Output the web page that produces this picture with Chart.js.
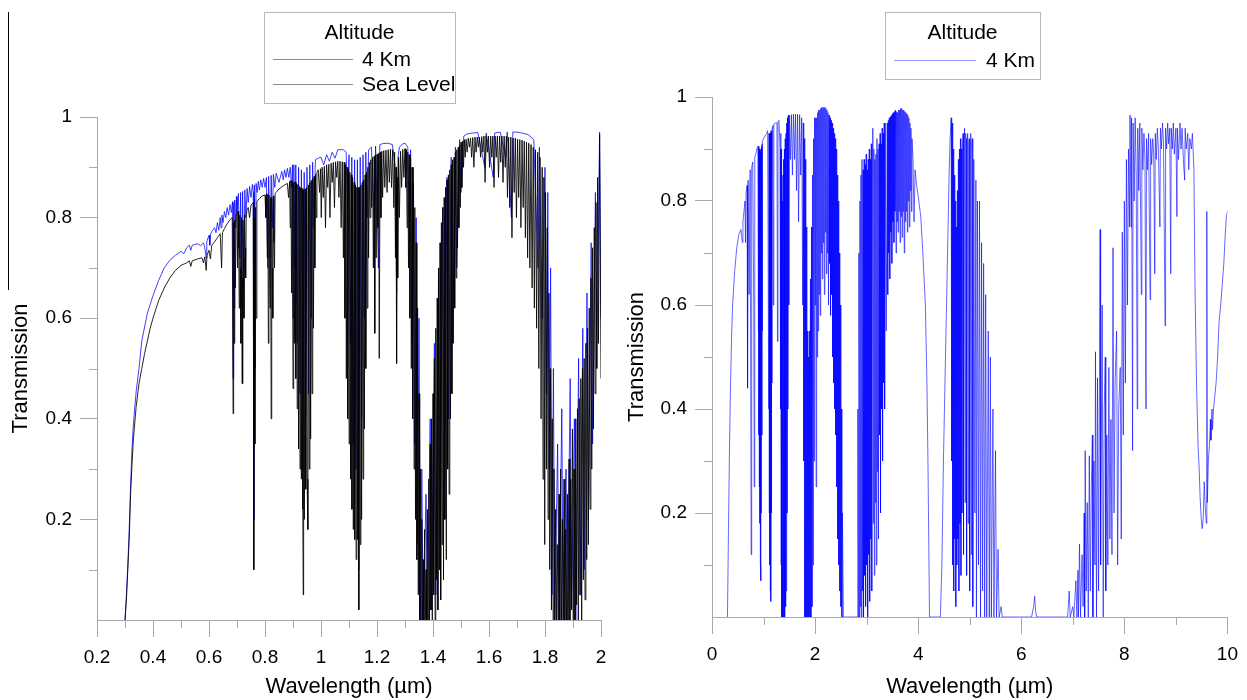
<!DOCTYPE html>
<html>
<head>
<meta charset="utf-8">
<title>Transmission vs wavelength</title>
<script src="https://cdn.jsdelivr.net/npm/chart.js@4.4.1/dist/chart.umd.min.js"></script>
<style>
  html, body { margin: 0; padding: 0; background: #fff; }
  #page { position: relative; width: 1247px; height: 700px; overflow: hidden; }
  .panel { position: absolute; top: 0; height: 700px; }
  #leftPanel { left: 0; width: 620px; }
  #rightPanel { left: 620px; width: 627px; }
  #strayLine { position: absolute; left: 8px; top: 12px; width: 0; height: 278px; border-left: 1px solid #000; }
</style>
</head>
<body>
<div id="page">
  <div class="panel" id="leftPanel"><canvas id="nearChart"></canvas></div>
  <div class="panel" id="rightPanel"><canvas id="wideChart"></canvas></div>
  <div id="strayLine"></div>
</div>
<script>
// Minor tick positions (major ticks come from the scales)
const nearMinorX = [0.3, 0.5, 0.7, 0.9, 1.1, 1.3, 1.5, 1.7, 1.9];
const wideMinorX = [1, 3, 5, 7, 9];
const minorY = [0.1, 0.3, 0.5, 0.7, 0.9];

// Sea level transmission, 0.3 - 2 µm  [wavelength, transmission]
const seaLevelNear = [
  [0.300,0.00],[0.305,0.04],[0.310,0.10],[0.315,0.16],[0.320,0.25],[0.325,0.31],[0.330,0.36],[0.340,0.425],[0.350,0.47],[0.360,0.50],
  [0.370,0.53],[0.380,0.555],[0.390,0.58],[0.400,0.60],[0.420,0.635],[0.440,0.66],[0.460,0.68],[0.480,0.695],[0.500,0.705],[0.520,0.71],
  [0.530,0.714],[0.535,0.703],[0.540,0.714],[0.560,0.718],[0.575,0.72],[0.580,0.71],[0.585,0.722],[0.590,0.695],[0.593,0.725],[0.600,0.735],
  [0.605,0.718],[0.610,0.745],[0.620,0.752],[0.630,0.760],[0.640,0.768],[0.645,0.70],[0.648,0.77],[0.655,0.778],[0.665,0.788],[0.675,0.796],
  [0.683,0.80],[0.686,0.41],[0.688,0.79],[0.690,0.55],[0.692,0.795],[0.694,0.66],[0.697,0.805],[0.700,0.81],[0.702,0.70],[0.704,0.812],
  [0.706,0.74],[0.708,0.62],[0.710,0.805],[0.712,0.70],[0.714,0.55],[0.716,0.80],[0.718,0.68],[0.719,0.47],[0.721,0.795],[0.723,0.72],
  [0.725,0.60],[0.727,0.805],[0.729,0.74],[0.731,0.68],[0.733,0.81],[0.735,0.815],[0.740,0.82],[0.745,0.80],[0.750,0.825],[0.756,0.828],
  [0.758,0.83],[0.760,0.10],[0.762,0.80],[0.764,0.35],[0.766,0.82],[0.768,0.60],[0.771,0.832],[0.780,0.838],[0.790,0.843],[0.800,0.845],
  [0.803,0.80],[0.806,0.848],[0.808,0.72],[0.810,0.846],[0.812,0.55],[0.814,0.845],[0.816,0.70],[0.818,0.62],[0.820,0.84],[0.822,0.40],
  [0.824,0.84],[0.826,0.70],[0.828,0.60],[0.830,0.843],[0.832,0.75],[0.834,0.70],[0.836,0.848],[0.840,0.85],[0.850,0.857],[0.870,0.865],
  [0.880,0.868],[0.884,0.84],[0.888,0.872],[0.890,0.78],[0.8925,0.874],[0.895,0.65],[0.8975,0.873],[0.900,0.46],[0.9025,0.87],[0.905,0.55],
  [0.9075,0.871],[0.910,0.48],[0.9125,0.868],[0.915,0.42],[0.9175,0.866],[0.920,0.34],[0.9225,0.862],[0.925,0.30],[0.9275,0.86],[0.930,0.28],
  [0.9325,0.858],[0.935,0.22],[0.9365,0.05],[0.938,0.855],[0.9405,0.20],[0.943,0.857],[0.9455,0.26],[0.948,0.86],[0.9505,0.28],[0.953,0.18],
  [0.9555,0.865],[0.958,0.30],[0.9605,0.87],[0.963,0.36],[0.9655,0.874],[0.968,0.45],[0.9705,0.878],[0.973,0.58],[0.9755,0.882],[0.978,0.70],
  [0.9805,0.886],[0.983,0.80],[0.9855,0.89],[0.990,0.895],[0.995,0.85],[0.998,0.897],[1.001,0.80],[1.004,0.90],[1.008,0.84],[1.012,0.902],
  [1.016,0.78],[1.020,0.905],[1.024,0.86],[1.028,0.906],[1.032,0.80],[1.036,0.908],[1.040,0.87],[1.044,0.91],[1.048,0.82],[1.052,0.911],
  [1.056,0.88],[1.060,0.912],[1.064,0.84],[1.068,0.912],[1.072,0.78],[1.076,0.911],[1.080,0.72],[1.083,0.91],[1.0855,0.60],[1.088,0.905],
  [1.0905,0.48],[1.093,0.90],[1.0955,0.40],[1.098,0.895],[1.1005,0.35],[1.103,0.89],[1.1055,0.28],[1.108,0.885],[1.1105,0.22],[1.113,0.88],
  [1.1155,0.18],[1.118,0.87],[1.1205,0.16],[1.123,0.865],[1.1255,0.12],[1.128,0.86],[1.1305,0.16],[1.133,0.86],[1.135,0.02],[1.1375,0.86],
  [1.140,0.15],[1.1425,0.865],[1.145,0.20],[1.1475,0.87],[1.150,0.28],[1.1525,0.875],[1.155,0.38],[1.1575,0.885],[1.160,0.50],[1.1625,0.89],
  [1.165,0.62],[1.1675,0.90],[1.170,0.72],[1.1725,0.91],[1.175,0.80],[1.178,0.915],[1.181,0.82],[1.184,0.92],[1.187,0.70],[1.190,0.922],
  [1.192,0.57],[1.194,0.924],[1.197,0.72],[1.200,0.926],[1.203,0.78],[1.206,0.928],[1.208,0.52],[1.211,0.93],[1.214,0.80],[1.217,0.932],
  [1.220,0.84],[1.224,0.933],[1.228,0.86],[1.232,0.934],[1.236,0.85],[1.240,0.935],[1.244,0.87],[1.248,0.936],[1.252,0.86],[1.256,0.935],
  [1.260,0.82],[1.263,0.93],[1.266,0.72],[1.268,0.90],[1.270,0.51],[1.272,0.88],[1.274,0.68],[1.277,0.92],[1.280,0.80],[1.284,0.932],
  [1.288,0.86],[1.292,0.936],[1.296,0.88],[1.300,0.937],[1.3025,0.86],[1.305,0.935],[1.3075,0.78],[1.310,0.93],[1.3125,0.70],[1.315,0.925],
  [1.3175,0.60],[1.320,0.92],[1.3225,0.50],[1.325,0.90],[1.3275,0.40],[1.330,0.87],[1.3325,0.30],[1.335,0.82],[1.3375,0.20],[1.340,0.75],
  [1.3425,0.12],[1.345,0.62],[1.3475,0.05],[1.350,0.45],[1.3525,0.00],[1.355,0.30],[1.3575,0.00],[1.360,0.20],[1.3625,0.00],[1.365,0.12],
  [1.3675,0.00],[1.370,0.18],[1.3725,0.00],[1.375,0.10],[1.3775,0.00],[1.380,0.22],[1.3825,0.00],[1.385,0.28],[1.3875,0.00],[1.390,0.35],
  [1.3925,0.02],[1.395,0.40],[1.3975,0.00],[1.400,0.45],[1.4025,0.05],[1.405,0.52],[1.4075,0.00],[1.410,0.58],[1.4125,0.08],[1.415,0.64],
  [1.4175,0.02],[1.420,0.70],[1.4225,0.10],[1.425,0.75],[1.4275,0.04],[1.430,0.79],[1.4325,0.15],[1.435,0.82],[1.4375,0.08],[1.440,0.84],
  [1.4425,0.20],[1.445,0.86],[1.4475,0.12],[1.450,0.875],[1.4525,0.30],[1.455,0.885],[1.4575,0.25],[1.460,0.895],[1.4625,0.40],[1.465,0.905],
  [1.4675,0.45],[1.470,0.915],[1.4725,0.55],[1.475,0.92],[1.4775,0.62],[1.480,0.93],[1.4825,0.68],[1.485,0.935],[1.4875,0.74],[1.490,0.94],
  [1.4925,0.78],[1.495,0.945],[1.4975,0.82],[1.500,0.95],[1.503,0.86],[1.506,0.952],[1.509,0.90],[1.512,0.955],[1.515,0.92],[1.518,0.956],
  [1.522,0.93],[1.526,0.958],[1.530,0.94],[1.534,0.958],[1.538,0.92],[1.542,0.959],[1.546,0.90],[1.550,0.96],[1.554,0.93],[1.558,0.96],
  [1.562,0.94],[1.566,0.96],[1.570,0.92],[1.574,0.961],[1.578,0.93],[1.582,0.962],[1.586,0.87],[1.590,0.962],[1.594,0.93],[1.598,0.962],
  [1.602,0.90],[1.606,0.962],[1.610,0.92],[1.614,0.962],[1.618,0.86],[1.622,0.962],[1.626,0.92],[1.630,0.962],[1.634,0.88],[1.638,0.962],
  [1.642,0.91],[1.646,0.962],[1.650,0.87],[1.654,0.962],[1.658,0.90],[1.662,0.962],[1.666,0.84],[1.670,0.96],[1.674,0.82],[1.678,0.96],
  [1.682,0.76],[1.686,0.958],[1.690,0.85],[1.694,0.958],[1.698,0.80],[1.702,0.956],[1.706,0.84],[1.710,0.955],[1.714,0.78],[1.718,0.954],
  [1.722,0.82],[1.726,0.952],[1.730,0.76],[1.734,0.95],[1.738,0.72],[1.742,0.948],[1.746,0.70],[1.750,0.945],[1.754,0.66],[1.758,0.94],
  [1.762,0.62],[1.766,0.935],[1.770,0.58],[1.774,0.93],[1.778,0.50],[1.782,0.92],[1.786,0.40],[1.790,0.90],[1.793,0.28],[1.796,0.88],
  [1.799,0.15],[1.802,0.85],[1.805,0.30],[1.808,0.78],[1.811,0.20],[1.814,0.65],[1.817,0.10],[1.820,0.50],[1.823,0.02],[1.826,0.40],
  [1.829,0.00],[1.832,0.30],[1.835,0.00],[1.838,0.22],[1.841,0.00],[1.844,0.15],[1.847,0.00],[1.850,0.25],[1.853,0.00],[1.856,0.30],
  [1.859,0.00],[1.862,0.20],[1.865,0.00],[1.868,0.28],[1.871,0.00],[1.874,0.18],[1.877,0.00],[1.880,0.25],[1.883,0.00],[1.886,0.32],
  [1.889,0.00],[1.892,0.28],[1.895,0.02],[1.898,0.38],[1.901,0.00],[1.904,0.30],[1.907,0.00],[1.910,0.40],[1.913,0.03],[1.916,0.42],
  [1.919,0.00],[1.922,0.44],[1.925,0.05],[1.928,0.48],[1.931,0.00],[1.934,0.50],[1.937,0.08],[1.940,0.52],[1.943,0.04],[1.946,0.55],
  [1.949,0.12],[1.952,0.58],[1.955,0.15],[1.958,0.62],[1.961,0.22],[1.964,0.68],[1.967,0.30],[1.970,0.74],[1.973,0.38],[1.976,0.78],
  [1.979,0.45],[1.982,0.83],[1.985,0.50],[1.988,0.88],[1.991,0.55],[1.995,0.965],[2.000,0.48]
];

// 4 km altitude transmission, 0.3 - 2 µm
const km4Near = [
  [0.300,0.00],[0.305,0.05],[0.310,0.11],[0.315,0.18],[0.320,0.27],[0.325,0.34],[0.330,0.39],[0.340,0.455],[0.350,0.50],[0.360,0.555],
  [0.380,0.61],[0.400,0.645],[0.420,0.675],[0.440,0.70],[0.460,0.715],[0.480,0.725],[0.500,0.733],[0.510,0.728],[0.520,0.74],[0.530,0.745],
  [0.535,0.735],[0.540,0.745],[0.560,0.748],[0.570,0.744],[0.580,0.75],[0.585,0.74],[0.590,0.72],[0.592,0.752],[0.600,0.765],[0.603,0.745],
  [0.606,0.768],[0.610,0.772],[0.620,0.78],[0.625,0.77],[0.630,0.79],[0.635,0.775],[0.640,0.80],[0.643,0.78],[0.646,0.805],[0.650,0.79],
  [0.655,0.812],[0.660,0.80],[0.665,0.82],[0.670,0.805],[0.675,0.826],[0.680,0.81],[0.684,0.832],[0.686,0.48],[0.688,0.83],[0.690,0.62],
  [0.692,0.835],[0.695,0.78],[0.698,0.842],[0.700,0.81],[0.705,0.848],[0.710,0.72],[0.713,0.85],[0.717,0.62],[0.720,0.852],[0.724,0.70],
  [0.728,0.855],[0.732,0.80],[0.736,0.858],[0.740,0.83],[0.745,0.862],[0.750,0.84],[0.755,0.866],[0.758,0.85],[0.760,0.20],[0.762,0.865],
  [0.765,0.50],[0.768,0.868],[0.772,0.85],[0.776,0.872],[0.780,0.855],[0.785,0.875],[0.790,0.86],[0.795,0.878],[0.800,0.86],[0.805,0.88],
  [0.810,0.70],[0.813,0.882],[0.818,0.72],[0.822,0.884],[0.826,0.78],[0.830,0.886],[0.835,0.86],[0.840,0.888],[0.850,0.87],[0.860,0.892],
  [0.865,0.875],[0.870,0.895],[0.875,0.88],[0.880,0.898],[0.885,0.88],[0.890,0.90],[0.895,0.86],[0.898,0.905],[0.900,0.60],[0.903,0.905],
  [0.907,0.70],[0.910,0.905],[0.915,0.55],[0.920,0.90],[0.925,0.45],[0.930,0.895],[0.935,0.30],[0.940,0.89],[0.945,0.40],[0.950,0.90],
  [0.955,0.45],[0.960,0.905],[0.965,0.60],[0.970,0.91],[0.975,0.78],[0.980,0.915],[0.990,0.918],[1.000,0.92],[1.010,0.905],[1.020,0.925],
  [1.030,0.912],[1.040,0.93],[1.050,0.918],[1.060,0.935],[1.080,0.935],[1.090,0.93],[1.095,0.82],[1.100,0.925],[1.105,0.55],[1.110,0.92],
  [1.115,0.35],[1.120,0.915],[1.125,0.30],[1.130,0.915],[1.135,0.10],[1.140,0.92],[1.145,0.40],[1.150,0.925],[1.155,0.60],[1.160,0.93],
  [1.165,0.80],[1.170,0.935],[1.180,0.94],[1.190,0.80],[1.195,0.942],[1.205,0.70],[1.210,0.945],[1.220,0.947],[1.240,0.948],[1.255,0.945],
  [1.265,0.90],[1.270,0.65],[1.275,0.92],[1.280,0.94],[1.290,0.946],[1.300,0.948],[1.310,0.94],[1.315,0.80],[1.320,0.935],[1.325,0.55],
  [1.330,0.90],[1.335,0.35],[1.340,0.80],[1.345,0.15],[1.350,0.60],[1.355,0.00],[1.360,0.30],[1.365,0.00],[1.375,0.25],[1.380,0.00],
  [1.390,0.40],[1.395,0.02],[1.405,0.55],[1.410,0.05],[1.420,0.70],[1.425,0.10],[1.435,0.82],[1.440,0.20],[1.450,0.88],[1.455,0.40],
  [1.465,0.92],[1.470,0.55],[1.480,0.94],[1.485,0.70],[1.495,0.955],[1.500,0.85],[1.510,0.962],[1.520,0.966],[1.540,0.968],[1.560,0.969],
  [1.585,0.90],[1.590,0.968],[1.615,0.88],[1.620,0.968],[1.640,0.97],[1.660,0.92],[1.665,0.97],[1.680,0.80],[1.685,0.97],[1.700,0.97],
  [1.720,0.968],[1.740,0.965],[1.750,0.96],[1.760,0.955],[1.775,0.70],[1.780,0.94],[1.790,0.60],[1.800,0.90],[1.805,0.45],[1.810,0.85],
  [1.815,0.30],[1.820,0.70],[1.825,0.05],[1.830,0.50],[1.835,0.00],[1.845,0.35],[1.850,0.00],[1.860,0.42],[1.865,0.00],[1.875,0.30],
  [1.880,0.00],[1.890,0.48],[1.895,0.02],[1.905,0.40],[1.910,0.00],[1.920,0.52],[1.925,0.05],[1.935,0.58],[1.940,0.10],[1.950,0.65],
  [1.955,0.20],[1.965,0.75],[1.970,0.35],[1.980,0.85],[1.985,0.50],[1.995,0.97],[2.000,0.60]
];

// 4 km altitude transmission, 0.3 - 10 µm
const km4Wide = [
  [0.30,0.00],[0.32,0.17],[0.34,0.33],[0.36,0.45],[0.38,0.54],[0.40,0.60],[0.44,0.665],[0.48,0.71],[0.52,0.735],[0.56,0.745],
  [0.59,0.72],[0.60,0.76],[0.62,0.78],[0.64,0.80],[0.65,0.72],[0.66,0.815],[0.68,0.83],[0.69,0.44],[0.70,0.84],[0.72,0.62],
  [0.74,0.86],[0.76,0.12],[0.77,0.865],[0.79,0.875],[0.81,0.60],[0.82,0.25],[0.83,0.885],[0.85,0.89],[0.87,0.90],[0.89,0.905],
  [0.90,0.55],[0.905,0.905],[0.91,0.35],[0.915,0.90],[0.92,0.25],[0.925,0.90],[0.93,0.18],[0.935,0.895],[0.94,0.10],[0.945,0.07],
  [0.95,0.90],[0.955,0.20],[0.96,0.905],[0.965,0.35],[0.97,0.91],[0.975,0.55],[0.98,0.915],[1.00,0.92],[1.03,0.925],[1.06,0.93],
  [1.08,0.935],[1.10,0.40],[1.105,0.93],[1.11,0.20],[1.115,0.93],[1.12,0.10],[1.125,0.93],[1.13,0.05],[1.135,0.93],[1.14,0.03],
  [1.145,0.935],[1.15,0.20],[1.155,0.935],[1.16,0.45],[1.165,0.94],[1.18,0.945],[1.19,0.60],[1.20,0.948],[1.23,0.95],[1.26,0.95],
  [1.27,0.53],[1.28,0.952],[1.30,0.955],[1.32,0.90],[1.33,0.40],[1.335,0.93],[1.34,0.10],[1.345,0.90],[1.35,0.00],[1.36,0.80],
  [1.365,0.00],[1.375,0.85],[1.38,0.00],[1.39,0.88],[1.395,0.00],[1.405,0.90],[1.41,0.00],[1.42,0.92],[1.425,0.02],[1.435,0.93],
  [1.44,0.05],[1.45,0.95],[1.455,0.20],[1.465,0.96],[1.47,0.40],[1.48,0.965],[1.49,0.60],[1.50,0.965],[1.52,0.88],[1.54,0.966],
  [1.56,0.85],[1.58,0.967],[1.60,0.88],[1.62,0.967],[1.64,0.82],[1.66,0.967],[1.68,0.76],[1.70,0.966],[1.72,0.85],[1.74,0.96],
  [1.76,0.60],[1.77,0.95],[1.78,0.30],[1.79,0.92],[1.80,0.00],[1.81,0.88],[1.82,0.00],[1.83,0.75],[1.84,0.00],[1.85,0.55],
  [1.86,0.00],[1.87,0.50],[1.88,0.00],[1.89,0.55],[1.90,0.00],[1.91,0.65],[1.92,0.00],[1.93,0.75],[1.94,0.02],[1.95,0.85],
  [1.96,0.10],[1.97,0.92],[1.98,0.30],[1.99,0.96],[2.00,0.60],[2.01,0.96],[2.02,0.25],[2.03,0.96],[2.04,0.50],[2.05,0.97],
  [2.06,0.55],[2.07,0.975],[2.08,0.62],[2.09,0.975],[2.10,0.58],[2.11,0.978],[2.12,0.70],[2.13,0.98],[2.14,0.65],[2.15,0.98],
  [2.16,0.72],[2.17,0.98],[2.18,0.62],[2.19,0.98],[2.20,0.74],[2.21,0.978],[2.22,0.66],[2.23,0.975],[2.24,0.70],[2.25,0.97],
  [2.26,0.60],[2.27,0.965],[2.28,0.68],[2.29,0.96],[2.30,0.58],[2.31,0.955],[2.32,0.62],[2.33,0.95],[2.34,0.50],[2.35,0.94],
  [2.36,0.45],[2.37,0.93],[2.38,0.40],[2.39,0.92],[2.40,0.35],[2.41,0.90],[2.42,0.25],[2.43,0.85],[2.44,0.15],[2.45,0.80],
  [2.46,0.10],[2.47,0.70],[2.48,0.05],[2.49,0.60],[2.50,0.02],[2.51,0.40],[2.52,0.00],[2.53,0.20],[2.55,0.00],[2.80,0.00],
  [2.82,0.00],[2.83,0.40],[2.84,0.00],[2.85,0.70],[2.86,0.00],[2.87,0.80],[2.88,0.02],[2.89,0.85],[2.90,0.00],[2.91,0.88],
  [2.92,0.05],[2.93,0.86],[2.94,0.00],[2.95,0.88],[2.96,0.08],[2.97,0.87],[2.98,0.02],[2.99,0.89],[3.00,0.10],[3.01,0.86],
  [3.02,0.00],[3.03,0.88],[3.04,0.12],[3.05,0.90],[3.06,0.03],[3.07,0.88],[3.08,0.15],[3.09,0.91],[3.10,0.05],[3.11,0.90],
  [3.12,0.94],[3.13,0.18],[3.14,0.90],[3.15,0.08],[3.16,0.88],[3.17,0.22],[3.18,0.89],[3.19,0.10],[3.20,0.92],[3.21,0.28],
  [3.22,0.90],[3.23,0.15],[3.24,0.91],[3.25,0.35],[3.26,0.93],[3.27,0.20],[3.28,0.91],[3.29,0.40],[3.30,0.94],[3.31,0.30],
  [3.32,0.93],[3.33,0.45],[3.34,0.95],[3.35,0.40],[3.36,0.95],[3.38,0.55],[3.40,0.95],[3.41,0.62],[3.42,0.955],[3.43,0.70],
  [3.44,0.96],[3.45,0.65],[3.46,0.962],[3.47,0.74],[3.48,0.965],[3.49,0.68],[3.50,0.968],[3.51,0.76],[3.52,0.97],[3.53,0.72],
  [3.54,0.972],[3.55,0.78],[3.56,0.975],[3.57,0.70],[3.58,0.972],[3.59,0.76],[3.60,0.97],[3.61,0.74],[3.62,0.975],[3.63,0.78],
  [3.64,0.975],[3.65,0.72],[3.66,0.978],[3.67,0.77],[3.68,0.978],[3.69,0.73],[3.70,0.975],[3.71,0.78],[3.72,0.975],[3.73,0.70],
  [3.74,0.972],[3.75,0.76],[3.76,0.97],[3.77,0.78],[3.78,0.968],[3.79,0.74],[3.80,0.965],[3.81,0.80],[3.82,0.96],[3.83,0.75],
  [3.84,0.95],[3.85,0.82],[3.86,0.94],[3.87,0.78],[3.88,0.92],[3.90,0.88],[3.92,0.76],[3.94,0.86],[3.97,0.83],[4.00,0.81],
  [4.05,0.77],[4.08,0.72],[4.11,0.66],[4.14,0.60],[4.17,0.45],[4.19,0.30],[4.21,0.10],[4.22,0.00],[4.43,0.00],[4.46,0.10],
  [4.49,0.30],[4.52,0.45],[4.55,0.60],[4.58,0.75],[4.60,0.85],[4.62,0.92],[4.64,0.96],[4.65,0.30],[4.66,0.95],[4.67,0.10],
  [4.68,0.90],[4.69,0.05],[4.70,0.85],[4.71,0.15],[4.72,0.80],[4.73,0.02],[4.74,0.75],[4.75,0.10],[4.76,0.82],[4.77,0.15],
  [4.78,0.88],[4.79,0.05],[4.80,0.90],[4.81,0.18],[4.82,0.92],[4.83,0.08],[4.84,0.90],[4.85,0.20],[4.86,0.91],[4.87,0.93],
  [4.88,0.12],[4.89,0.92],[4.90,0.94],[4.91,0.22],[4.92,0.93],[4.93,0.92],[4.94,0.08],[4.95,0.92],[4.96,0.93],[4.97,0.18],
  [4.98,0.91],[4.99,0.92],[5.00,0.05],[5.01,0.90],[5.02,0.93],[5.03,0.12],[5.04,0.91],[5.05,0.92],[5.06,0.02],[5.08,0.88],
  [5.10,0.20],[5.12,0.84],[5.13,0.00],[5.15,0.80],[5.17,0.10],[5.19,0.80],[5.21,0.00],[5.23,0.72],[5.25,0.05],[5.27,0.68],
  [5.29,0.00],[5.31,0.62],[5.33,0.00],[5.36,0.55],[5.38,0.00],[5.40,0.50],[5.42,0.00],[5.45,0.40],[5.47,0.00],[5.50,0.32],
  [5.52,0.00],[5.55,0.13],[5.57,0.00],[5.61,0.02],[5.63,0.00],[6.20,0.00],[6.24,0.02],[6.26,0.04],[6.28,0.01],[6.30,0.00],
  [6.90,0.00],[6.93,0.05],[6.95,0.00],[7.00,0.02],[7.02,0.00],[7.06,0.07],[7.08,0.00],[7.10,0.09],[7.11,0.00],[7.13,0.14],
  [7.15,0.00],[7.18,0.12],[7.20,0.02],[7.22,0.20],[7.23,0.00],[7.24,0.32],[7.26,0.05],[7.28,0.22],[7.30,0.00],[7.32,0.31],
  [7.34,0.05],[7.36,0.25],[7.38,0.35],[7.39,0.00],[7.41,0.30],[7.43,0.10],[7.44,0.51],[7.46,0.00],[7.48,0.46],[7.50,0.05],
  [7.53,0.745],[7.54,0.10],[7.57,0.60],[7.59,0.00],[7.61,0.40],[7.63,0.50],[7.64,0.05],[7.66,0.35],[7.68,0.10],[7.70,0.48],
  [7.72,0.15],[7.74,0.38],[7.76,0.12],[7.78,0.71],[7.80,0.20],[7.82,0.45],[7.85,0.55],[7.87,0.10],[7.89,0.40],[7.92,0.48],
  [7.94,0.15],[7.96,0.74],[7.98,0.35],[8.00,0.80],[8.02,0.45],[8.04,0.88],[8.06,0.60],[8.08,0.90],[8.10,0.75],[8.11,0.965],
  [8.13,0.75],[8.14,0.96],[8.16,0.32],[8.17,0.95],[8.19,0.80],[8.21,0.96],[8.23,0.85],[8.25,0.40],[8.26,0.94],[8.28,0.82],
  [8.30,0.95],[8.33,0.62],[8.34,0.94],[8.36,0.86],[8.38,0.93],[8.40,0.88],[8.42,0.40],[8.43,0.92],[8.45,0.86],[8.47,0.93],
  [8.50,0.61],[8.51,0.92],[8.53,0.87],[8.55,0.92],[8.57,0.89],[8.59,0.66],[8.60,0.93],[8.62,0.88],[8.64,0.94],[8.66,0.90],
  [8.69,0.75],[8.70,0.94],[8.72,0.90],[8.74,0.95],[8.76,0.91],[8.79,0.56],[8.80,0.94],[8.82,0.90],[8.84,0.95],[8.86,0.91],
  [8.88,0.94],[8.90,0.66],[8.91,0.94],[8.93,0.90],[8.95,0.95],[8.97,0.89],[9.00,0.94],[9.02,0.77],[9.03,0.94],[9.05,0.88],
  [9.08,0.95],[9.10,0.90],[9.12,0.94],[9.15,0.87],[9.17,0.84],[9.18,0.94],[9.20,0.90],[9.23,0.93],[9.25,0.86],[9.27,0.92],
  [9.30,0.90],[9.32,0.93],[9.35,0.86],[9.37,0.64],[9.40,0.45],[9.43,0.33],[9.45,0.29],[9.47,0.23],[9.49,0.19],[9.51,0.17],
  [9.53,0.19],[9.55,0.26],[9.57,0.21],[9.59,0.18],[9.60,0.78],[9.61,0.22],[9.63,0.30],[9.65,0.33],[9.67,0.38],[9.68,0.34],
  [9.70,0.40],[9.71,0.36],[9.73,0.40],[9.75,0.42],[9.78,0.45],[9.81,0.50],[9.84,0.57],[9.87,0.60],[9.90,0.64],[9.93,0.68],
  [9.96,0.74],[9.98,0.77],[10.00,0.78]
];

// legend sample colours, per canvas
const legendColors = {
  nearChart: ['#8080ff', '#8c8c8c'],
  wideChart: ['#9898ff']
};

const FONT = '"Liberation Sans", Arial, Helvetica, sans-serif';
Chart.defaults.font.family = FONT;
Chart.defaults.color = '#000';

const AXIS_GREY = '#a9a9a9';
const toXY = pts => pts.map(([x, y]) => ({ x: x, y: y }));
const fmt = v => String(Number(v.toFixed(1)));

// alternate two near-identical colours so every segment is stroked on its own
// and overlapping strokes build up density like the original plot
const hatch = (a, b) => ({ borderColor: ctx => (ctx.p0DataIndex % 2 ? a : b) });

// short unlabeled ticks between the major ones
const minorTicks = {
  id: 'minorTicks',
  afterDraw(chart, args, opts) {
    const ctx = chart.ctx;
    const xs = chart.scales.x, ys = chart.scales.y;
    ctx.save();
    ctx.strokeStyle = AXIS_GREY;
    ctx.lineWidth = 1;
    ctx.beginPath();
    opts.x.forEach(v => {
      const px = Math.round(xs.getPixelForValue(v)) + 0.5;
      ctx.moveTo(px, xs.top);
      ctx.lineTo(px, xs.top + opts.length);
    });
    opts.y.forEach(v => {
      const py = Math.round(ys.getPixelForValue(v)) + 0.5;
      ctx.moveTo(ys.right - opts.length, py);
      ctx.lineTo(ys.right, py);
    });
    ctx.stroke();
    ctx.restore();
  }
};

// boxed legend with a title, one row per dataset
const boxLegend = {
  id: 'boxLegend',
  afterDraw(chart, args, opts) {
    const ctx = chart.ctx;
    const [x0, y0, x1, y1] = opts.box;
    const colors = legendColors[chart.canvas.id];
    ctx.save();
    ctx.lineWidth = 1;
    ctx.strokeStyle = '#b8b8b8';
    ctx.strokeRect(x0 + 0.5, y0 + 0.5, x1 - x0, y1 - y0);
    ctx.font = opts.size + 'px ' + FONT;
    ctx.textBaseline = 'middle';
    ctx.textAlign = 'center';
    ctx.fillStyle = '#000';
    ctx.fillText(opts.title, (x0 + x1) / 2, opts.titleY);
    ctx.textAlign = 'left';
    chart.data.datasets.forEach((ds, i) => {
      const y = Math.round(opts.rowY[i]);
      ctx.fillStyle = colors[i];
      ctx.fillRect(opts.lineX[0], y, opts.lineX[1] - opts.lineX[0], 1);
      ctx.fillStyle = '#000';
      ctx.fillText(ds.label, opts.textX, y + 1);
    });
    ctx.restore();
  }
};

function axes(xMin, xMax, xStep, yWidth, xHeight, titlePad) {
  return {
    x: {
      type: 'linear', min: xMin, max: xMax,
      border: { color: AXIS_GREY, width: 1 },
      grid: { drawOnChartArea: false, drawTicks: true, tickLength: 17, color: AXIS_GREY },
      ticks: { stepSize: xStep, padding: 9, maxRotation: 0, autoSkip: false,
               font: { size: 19 }, color: '#000', callback: v => fmt(v) },
      title: { display: true, text: 'Wavelength (µm)', font: { size: 22 }, padding: { top: 0, bottom: 0 } },
      afterFit: s => { s.height = xHeight; }
    },
    y: {
      type: 'linear', min: 0, max: 1,
      border: { color: AXIS_GREY, width: 1 },
      grid: { drawOnChartArea: false, drawTicks: true, tickLength: 17,
              tickColor: c => (c.tick && c.tick.value === 0 ? 'rgba(0,0,0,0)' : AXIS_GREY) },
      ticks: { stepSize: 0.2, padding: 8, font: { size: 19 }, color: '#000',
               callback: v => (v === 0 ? '' : fmt(v)) },
      title: { display: true, text: 'Transmission', font: { size: 22 }, padding: { top: titlePad, bottom: 0 } },
      afterFit: s => { s.width = yWidth; }
    }
  };
}

const lineBase = { borderWidth: 1, pointRadius: 0, tension: 0, fill: false };

new Chart(document.getElementById('nearChart'), {
  type: 'line',
  data: {
    datasets: [
      Object.assign({}, lineBase, {
        label: '4 Km', order: 1, data: toXY(km4Near),
        borderColor: 'rgba(0,0,255,0.75)',
        segment: hatch('rgba(0,0,255,0.75)', 'rgba(0,0,254,0.75)')
      }),
      Object.assign({}, lineBase, {
        label: 'Sea Level', order: 0, data: toXY(seaLevelNear),
        borderColor: 'rgba(0,0,0,0.85)',
        segment: hatch('rgba(0,0,0,0.85)', 'rgba(1,1,1,0.85)')
      })
    ]
  },
  options: {
    responsive: true, maintainAspectRatio: false, animation: false, events: [],
    layout: { padding: { top: 117, right: 19, left: 0, bottom: 0 } },
    scales: axes(0.2, 2, 0.2, 97, 80, 8),
    plugins: {
      legend: { display: false }, tooltip: { enabled: false },
      minorTicks: { x: nearMinorX, y: minorY, length: 8 },
      boxLegend: { box: [264, 12, 455, 103], title: 'Altitude', titleY: 33, size: 21,
                   rowY: [59, 84], lineX: [273, 353], textX: 362 }
    }
  },
  plugins: [minorTicks, boxLegend]
});

new Chart(document.getElementById('wideChart'), {
  type: 'line',
  data: {
    datasets: [
      Object.assign({}, lineBase, {
        label: '4 Km', data: toXY(km4Wide),
        borderColor: 'rgba(0,0,255,0.6)',
        segment: hatch('rgba(0,0,255,0.6)', 'rgba(0,0,254,0.6)')
      })
    ]
  },
  options: {
    responsive: true, maintainAspectRatio: false, animation: false, events: [],
    layout: { padding: { top: 97, right: 16, left: 0, bottom: 0 } },
    scales: axes(0, 10, 2, 92, 83, 4),
    plugins: {
      legend: { display: false }, tooltip: { enabled: false },
      minorTicks: { x: wideMinorX, y: minorY, length: 8 },
      boxLegend: { box: [265, 12, 420, 79], title: 'Altitude', titleY: 33, size: 21,
                   rowY: [60], lineX: [274, 356], textX: 366 }
    }
  },
  plugins: [minorTicks, boxLegend]
});
</script>
</body>
</html>
